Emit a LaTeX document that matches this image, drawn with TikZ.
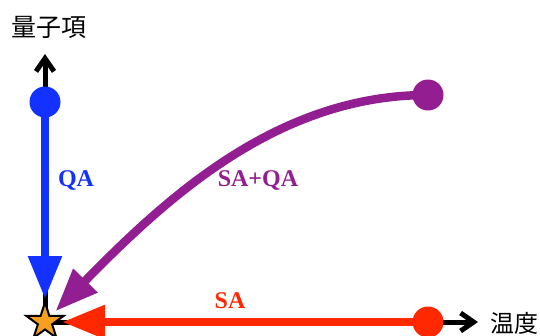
\documentclass[tikz,border=0pt]{standalone}
\usepackage{fontspec}
\setmainfont{Liberation Serif}
\newfontfamily\cjk{Noto Sans CJK JP}
\usepackage{xcolor}
\usetikzlibrary{arrows.meta,shapes.geometric}
\definecolor{qablue}{RGB}{20,50,255}
\definecolor{mixpurple}{RGB}{146,30,146}
\definecolor{sared}{RGB}{255,40,0}
\definecolor{starorange}{RGB}{247,160,30}

\begin{document}
\begin{tikzpicture}[x=1pt,y=-1pt,
    axis/.style={line width=5pt,-{Straight Barb[length=13pt,width=18pt,sharp]}},
    flow/.style={line width=8.5pt,-{Triangle[length=43pt,width=32pt]}},
    dot/.style={circle,fill=#1,inner sep=0pt,minimum size=31pt},
    lbl/.style={font=\fontsize{24}{28}\selectfont\bfseries,text=#1,anchor=base}]
  \useasboundingbox (0,0) rectangle (540,335);
  \coordinate (origin) at (45,322);
  \coordinate (ytip) at (45,54);
  \coordinate (xtip) at (478,322);
  \draw[axis] (origin) -- (ytip);
  \draw[axis] (origin) -- (xtip);
  \node[font=\cjk\fontsize{25}{28}\selectfont] (ylabel) at (49,27) {量子項};
  \node[font=\cjk\fontsize{24}{28}\selectfont] (xlabel) at (514,323) {温度};
  \node[dot=qablue] (qa) at (45,102) {};
  \node[dot=mixpurple] (mix) at (428,95) {};
  \node[dot=sared] (sa) at (428,322) {};
  \draw[flow,qablue,shorten >=23pt] (qa.center) -- (origin);
  \draw[flow,mixpurple,shorten >=15pt] (mix.center) .. controls (280,95) and (170,194) .. (origin);
  \draw[flow,sared,shorten >=17pt] (sa.center) -- (origin);
  \node[star,star points=5,star point ratio=2.6,minimum size=39pt,inner sep=0pt,
    fill=starorange,draw=black,line width=2pt] (goal) at (origin) {};
  \node[lbl=qablue] (qatext) at (76,186) {QA};
  \node[lbl=mixpurple] (mixtext) at (258,186) {SA+QA};
  \node[lbl=sared] (satext) at (230,308) {SA};
\end{tikzpicture}
\end{document}
